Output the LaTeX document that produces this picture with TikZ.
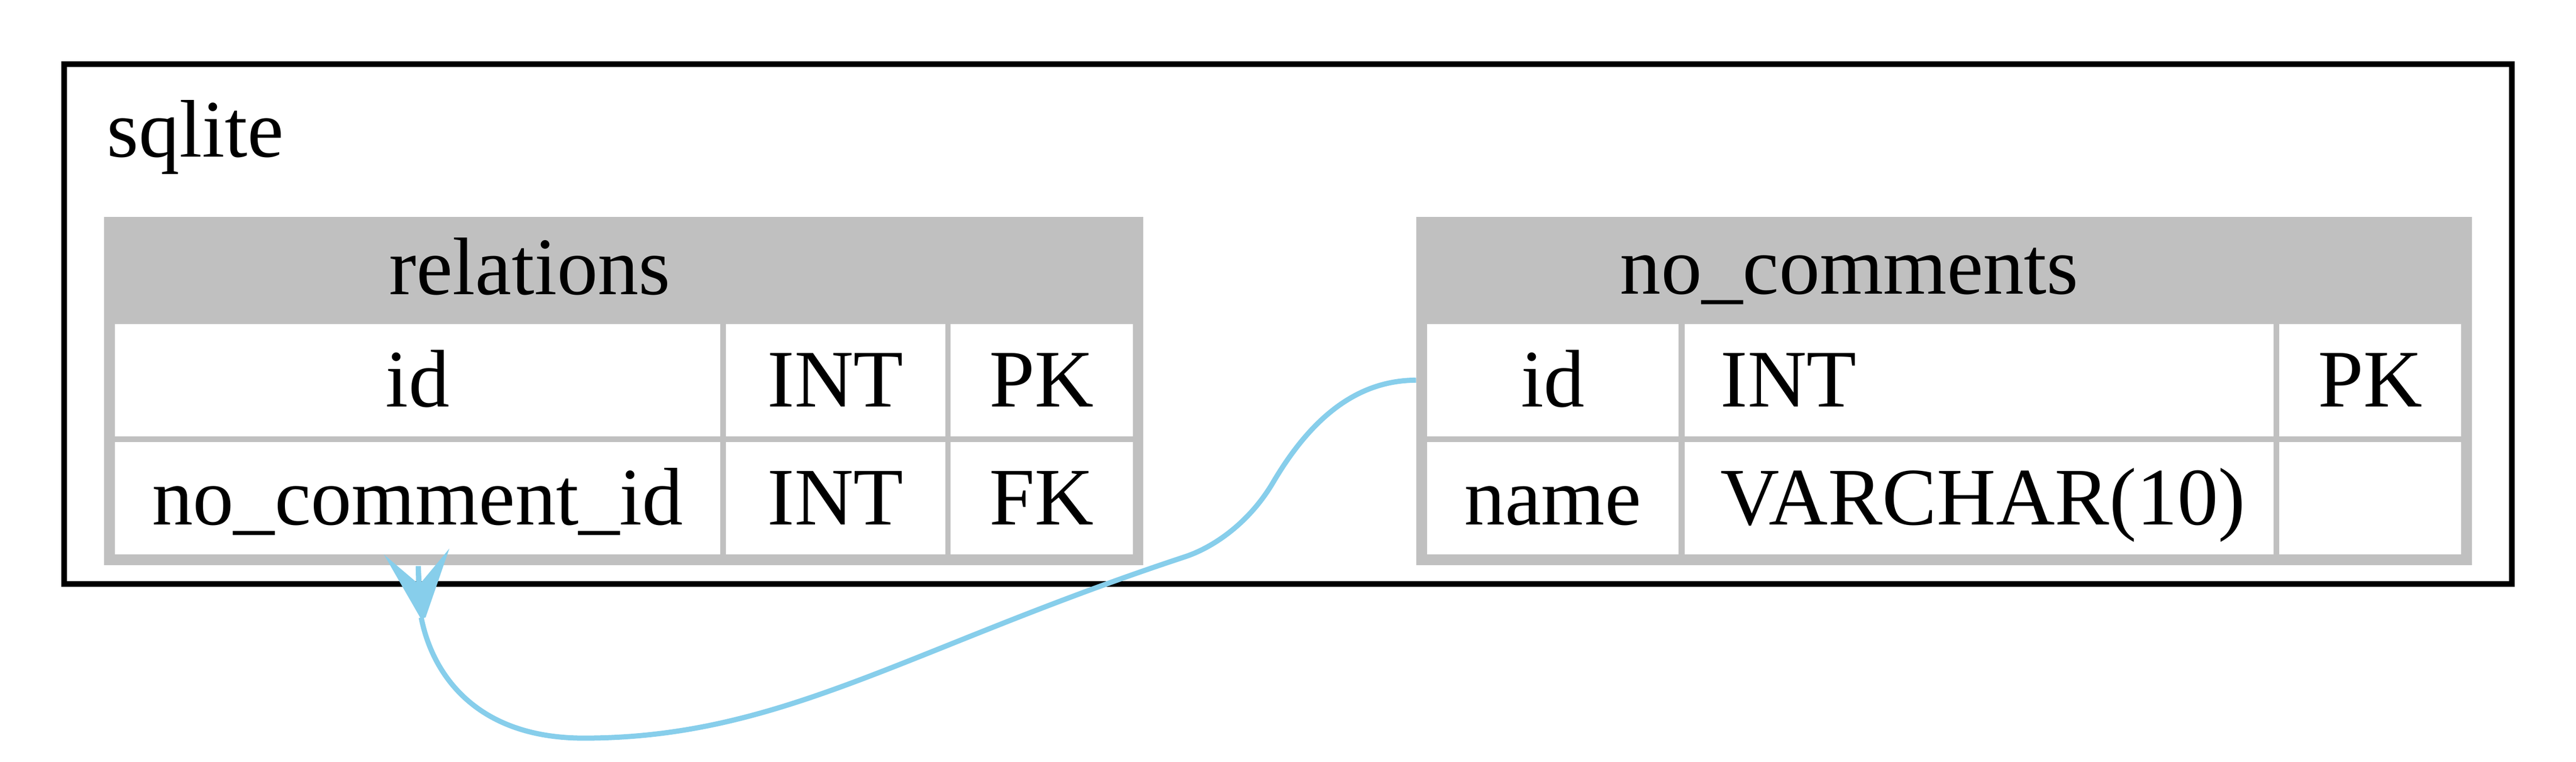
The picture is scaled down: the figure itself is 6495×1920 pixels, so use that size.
\documentclass[tikz,border=0pt]{standalone}
\usepackage{fontspec}
\setmainfont{Liberation Serif}
\definecolor{tblgray}{HTML}{C0C0C0}
\definecolor{linkblue}{HTML}{87CEEB}
\newcommand{\erfont}{\fontsize{58.6}{70}\selectfont}

\begin{document}
\begin{tikzpicture}[x=0.1mm, y=-0.1mm]
  \tikzset{ tbl/.style={fill=tblgray, inner sep=0pt, minimum height=87.8mm},
    cell/.style={fill=white, inner sep=0pt, font=\erfont, text height=20.8mm, text depth=7.5mm},
    title/.style={font=\erfont, inner sep=0pt, anchor=base},
    link/.style={linkblue, line width=1.3mm},
  }
  \useasboundingbox (0,0) rectangle (6495,1920);

  % the database frame
  \draw[line width=1.4mm] (161.5,161.5) rectangle (6333,1472);
  \node[title, anchor=base west] (db) at (269,396) {sqlite};

  % table relations
  \node[tbl, minimum width=262mm] (rel) at (1573,986) {};
  \node[title] (rel-title) at (1336,742) {relations};
  \node[cell, minimum width=152.6mm] (rel-id)      at (1053,958.5)   {id};
  \node[cell, minimum width=55.3mm]  (rel-idtype)  at (2106.5,958.5) {INT};
  \node[cell, minimum width=45.9mm]  (rel-idkey)   at (2626.5,958.5) {PK};
  \node[cell, minimum width=152.6mm] (rel-fk)      at (1053,1256)    {no\_comment\_id};
  \node[cell, minimum width=55.3mm]  (rel-fktype)  at (2106.5,1256)  {INT};
  \node[cell, minimum width=45.9mm]  (rel-fkkey)   at (2626.5,1256)  {FK};

  % table no_comments
  \node[tbl, minimum width=266.1mm] (nc) at (4901.5,986) {};
  \node[title] (nc-title) at (4663,741) {no\_comments};
  \node[cell, minimum width=63.4mm] (nc-id) at (3915,958.5) {id};
  \node[cell, text width=130.4mm, inner xsep=9mm, align=left] (nc-idtype) at (4990,958.5) {INT};
  \node[cell, minimum width=45.8mm] (nc-idkey) at (5976,958.5) {PK};
  \node[cell, minimum width=63.4mm] (nc-name) at (3915,1256) {name};
  \node[cell, text width=130.4mm, inner xsep=9mm, align=left] (nc-nametype) at (4990,1256) {VARCHAR(10)};
  \node[cell, minimum width=45.8mm] (nc-namekey) at (5976,1256) {};

  % the link between the tables
  \coordinate (crow) at (1062,1557);
  \draw[link] (nc.west |- nc-id) .. controls (3420,959) and (3305,1055) .. (3210,1216)
    .. controls (3150,1318) and (3060,1380) .. (2987,1404)
    .. controls (2287,1635) and (1972,1861) .. (1472,1861)
    .. controls (1200,1861) and (1090,1700) .. (crow);
  \fill[linkblue, shift={(crow)}] (-2,1) -- (-94,-159) -- (-13,-90) -- (-14,-130)
    -- (-1,-130) -- (1,-90) -- (71,-174) -- (11,0) -- cycle;
\end{tikzpicture}
\end{document}
